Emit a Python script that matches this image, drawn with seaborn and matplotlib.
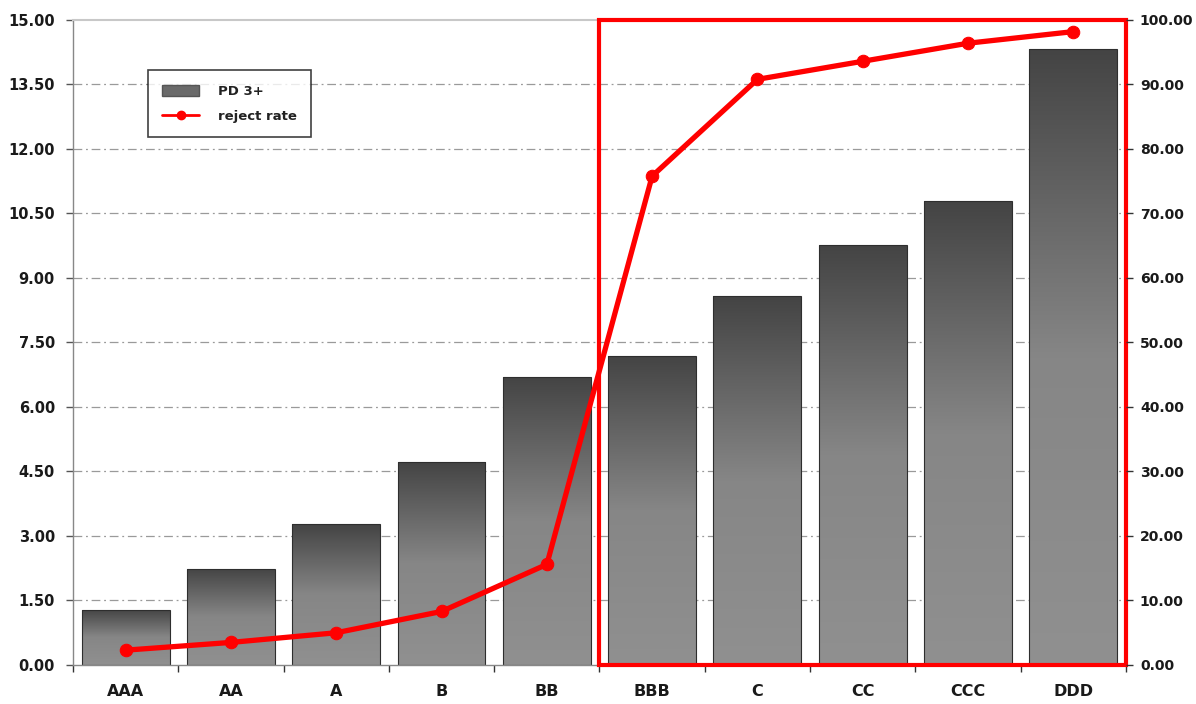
import numpy as np
import pandas as pd
import matplotlib
matplotlib.use("Agg")
import matplotlib.pyplot as plt
import seaborn as sns
from matplotlib.patches import Rectangle, Patch
from matplotlib.lines import Line2D
from matplotlib.colors import LinearSegmentedColormap

# Rating grades and their values
grades = ["AAA", "AA", "A", "B", "BB", "BBB", "C", "CC", "CCC", "DDD"]
pd3_values = [1.28, 2.24, 3.27, 4.73, 6.70, 7.19, 8.58, 9.77, 10.79, 14.32]
reject_rate = [2.3, 3.5, 5.0, 8.3, 15.6, 75.8, 90.8, 93.6, 96.4, 98.2]
left_ticks = [0.0, 1.5, 3.0, 4.5, 6.0, 7.5, 9.0, 10.5, 12.0, 13.5, 15.0]
right_ticks = [0, 10, 20, 30, 40, 50, 60, 70, 80, 90, 100]
label_bars = "PD 3+"
label_line = "reject rate"

df = pd.DataFrame({"grade": grades, "pd3": pd3_values, "reject": reject_rate})

sns.set_theme(style="white")
plt.rcParams["font.family"] = ["DejaVu Sans"]

fig = plt.figure(figsize=(11.96, 7.04), dpi=100)
ax = fig.add_axes([0.061, 0.0554, 0.8805, 0.9162])

sns.barplot(data=df, x="grade", y="pd3", ax=ax, color="#666666",
            width=0.835, edgecolor="#2e2e2e", linewidth=0.8, zorder=2)

# Vertical shading inside every bar: dark at the top, lighter at the base
grad_cmap = LinearSegmentedColormap.from_list("bar_shade", ["#909090", "#868686", "#444444"])
grad = np.linspace(0, 1, 256).reshape(-1, 1)
for p in ax.patches:
    x0, w, h = p.get_x(), p.get_width(), p.get_height()
    im = ax.imshow(grad, extent=[x0, x0 + w, 0, h], origin="lower",
                   aspect="auto", cmap=grad_cmap, zorder=2.1, interpolation="bilinear")
    im.set_clip_path(p)
    p.set_facecolor("none")
    p.set_zorder(2.2)

ax.set_xlim(-0.5, len(grades) - 0.5)
ax.set_ylim(0, 15)
ax.set_yticks(left_ticks)
ax.set_yticklabels([f"{v:.2f}" for v in left_ticks])
ax.set_xlabel("")
ax.set_ylabel("")

# Dash-dot guide lines on the primary scale
for v in left_ticks[1:-1]:
    ax.axhline(v, color="#9a9a9a", lw=0.9, ls=(0, (7, 3, 1.5, 3)), zorder=1)

# Ticks: category boundaries on x, outward ticks on y
ax.set_xticks(range(len(grades)))
ax.set_xticklabels(grades)
ax.set_xticks(np.arange(-0.5, len(grades), 1.0), minor=True)
ax.tick_params(axis="x", which="major", length=0, pad=14, labelsize=11.5, labelcolor="#1a1a1a")
ax.tick_params(axis="x", which="minor", length=5, width=1, color="#333333", direction="out", bottom=True)
ax.tick_params(axis="y", length=5, width=1, color="#555555", direction="out", left=True,
               labelsize=10.5, labelcolor="#1a1a1a", pad=8)
for lab in ax.get_xticklabels() + ax.get_yticklabels():
    lab.set_fontweight("bold")

ax.spines["right"].set_visible(False)
ax.spines["top"].set_color("#c8c8c8")
ax.spines["top"].set_linewidth(1.5)
ax.spines["left"].set_color("#888888")
ax.spines["bottom"].set_color("#888888")
ax.spines["left"].set_linewidth(1)
ax.spines["bottom"].set_linewidth(1)

# Secondary scale for the reject rate
ax2 = ax.twinx()
sns.lineplot(data=df, x="grade", y="reject", ax=ax2, sort=False, color="#ff0000",
             linewidth=3.8, marker="o", markersize=9, markeredgecolor="#ff0000", zorder=5)
ax2.set_ylim(0, 100)
ax2.set_yticks(right_ticks)
ax2.set_yticklabels([f"{v:.2f}" for v in right_ticks])
ax2.set_ylabel("")
ax2.tick_params(axis="y", length=5, width=1, color="#333333", direction="out", right=True,
                labelsize=10.1, labelcolor="#1a1a1a", pad=5)
for lab in ax2.get_yticklabels():
    lab.set_fontweight("bold")
for s in ["top", "left", "bottom", "right"]:
    ax2.spines[s].set_visible(False)
ax2.grid(False)

# Red frame around the high-risk grades
ax.add_patch(Rectangle((4.5, 0), 5.0, 15.0, fill=False, edgecolor="#ff0000",
                       linewidth=3, zorder=6, clip_on=False))

# Legend
handles = [Patch(facecolor="#6a6a6a", edgecolor="#555555", label=label_bars),
           Line2D([0], [0], color="#ff0000", lw=2, marker="o", markersize=6, label=label_line)]
leg = ax2.legend(handles=handles, loc="upper left", bbox_to_anchor=(0.071, 0.922),
                 borderaxespad=0, frameon=True, fancybox=False,
                 prop={"size": 9.5, "weight": "bold"},
                 handlelength=2.8, handleheight=0.9, borderpad=1.1, labelspacing=0.9,
                 handletextpad=1.4)
leg.get_frame().set_edgecolor("#111111")
leg.get_frame().set_linewidth(1.2)
for t in leg.get_texts():
    t.set_color("#222222")
leg.set_zorder(10)

fig.savefig("out.png", dpi=100, facecolor="white")
